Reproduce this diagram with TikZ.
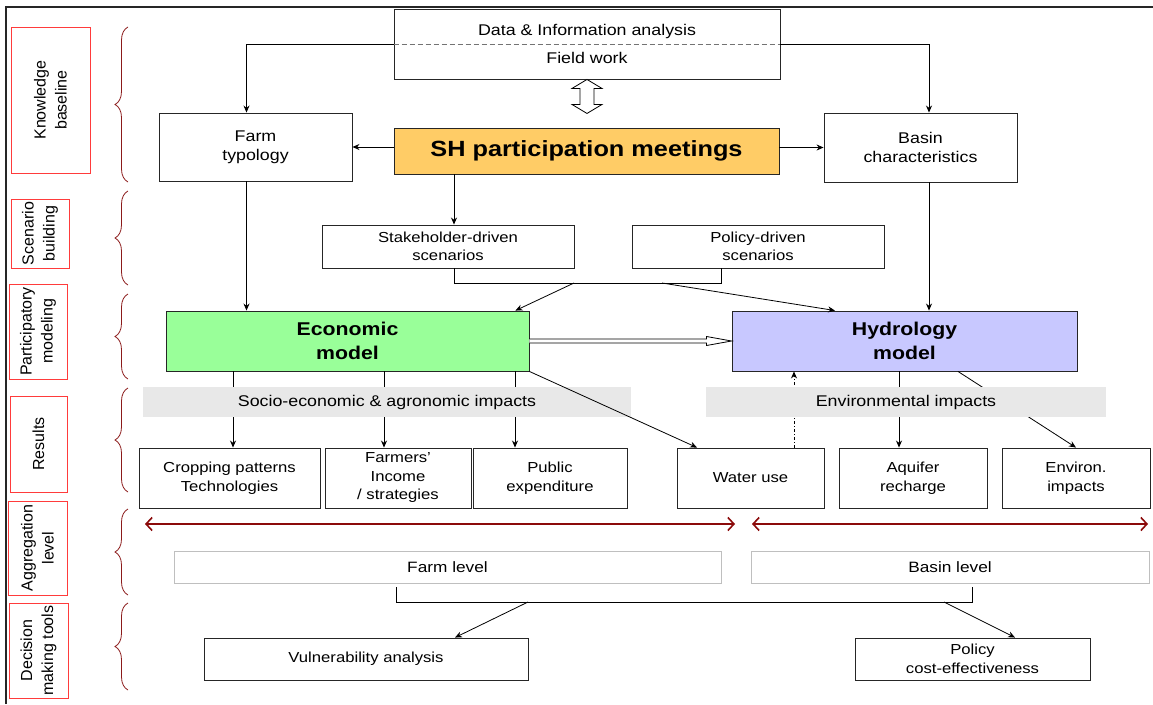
\documentclass[tikz,border=0pt]{standalone}
\usepackage{fontspec}
\setmainfont{Liberation Sans}[FakeStretch=1.15]
\newfontfamily\sidefont{Liberation Sans}
\usetikzlibrary{arrows.meta,calc,decorations.pathreplacing}

\definecolor{shorange}{HTML}{FFCC66}
\definecolor{ecogreen}{HTML}{99FF99}
\definecolor{hydroblue}{HTML}{C8C8FF}
\definecolor{bandgray}{HTML}{E8E8E8}
\definecolor{sidered}{HTML}{FF3B3B}
\definecolor{bracered}{HTML}{8B1A1A}
\definecolor{levelred}{HTML}{8B0A0A}

\begin{document}
\begin{tikzpicture}[x=1pt,y=-1pt,
  box/.style={draw=black!85,line width=0.9pt,align=center,inner sep=0pt,font=\fontsize{15.5}{19}\selectfont},
  small box/.style={box,font=\fontsize{14.5}{18.5}\selectfont},
  model box/.style={box,font=\fontsize{18.5}{24}\selectfont\bfseries},
  side label/.style={draw=sidered,line width=0.7pt,rotate=90,align=center,inner sep=0pt,font=\sidefont\fontsize{16}{21}\selectfont},
  band/.style={fill=bandgray,inner sep=0pt,text depth=2pt,font=\fontsize{15.5}{19}\selectfont},
  level box/.style={draw=black!25,line width=0.8pt,inner sep=0pt,font=\fontsize{15}{19}\selectfont},
  arr/.style={-{Stealth[length=7pt,width=6pt]},line width=0.8pt},
  level arrow/.style={{Straight Barb[length=6pt,width=13pt]}-{Straight Barb[length=6pt,width=13pt]},line width=1.6pt,draw=levelred},
  side brace/.style={decorate,decoration={brace,amplitude=13pt},draw=bracered,line width=0.8pt}]

  \useasboundingbox (0,0) rectangle (1153,704);

  % frame
  \draw[line width=1.5pt,black!85] (6,704) -- (6,7) -- (1153,7);

  % side labels and braces
  \node[side label,minimum width=146,minimum height=79] (kb) at (50.5,100) {Knowledge\\baseline};
  \node[side label,minimum width=69,minimum height=58] (sb) at (40,233.5) {Scenario\\building};
  \node[side label,minimum width=95,minimum height=58] (pm) at (38,331.5) {Participatory\\modeling};
  \node[side label,minimum width=96,minimum height=57] (rs) at (38.5,444) {Results};
  \node[side label,minimum width=94,minimum height=59] (al) at (37.5,548) {Aggregation\\level};
  \node[side label,minimum width=95,minimum height=59] (dm) at (38.5,650.5) {Decision\\making tools};
  \foreach \ya/\yb in {27/182,191/285,294/379,388/492,509/595,603/690}
    \draw[side brace] (128,\yb) -- (128,\ya);

  % knowledge baseline
  \node[box,minimum width=386,minimum height=70,font=\fontsize{15.5}{28}\selectfont] (data) at (587,44) {Data \& Information analysis\\Field work};
  \draw[dash pattern=on 5pt off 3pt,black!55,line width=0.8pt] (data.west) -- (data.east);
  \node[box,fill=shorange,minimum width=385,minimum height=46,font=\fontsize{22}{26}\selectfont\bfseries] (sh) at (586.5,151) {SH participation meetings};
  \node[box,minimum width=193,minimum height=68] (farm) at (255.5,147) {Farm\\typology};
  \node[box,minimum width=193,minimum height=69] (basin) at (920.5,147.5) {Basin\\characteristics};

  % scenarios
  \node[small box,minimum width=252,minimum height=43] (stake) at (448,246.5) {Stakeholder-driven\\scenarios};
  \node[small box,minimum width=252,minimum height=43] (policy) at (758,246.5) {Policy-driven\\scenarios};

  % models
  \node[model box,fill=ecogreen,minimum width=363,minimum height=60] (econ) at (347.5,341) {Economic\\model};
  \node[model box,fill=hydroblue,minimum width=345,minimum height=60] (hydro) at (904.5,341) {Hydrology\\model};

  % results
  \node[small box,minimum width=181,minimum height=60] (crop) at (229.5,478) {Cropping patterns\\Technologies};
  \node[small box,minimum width=146,minimum height=60] (income) at (398,478) {Farmers’\\Income\\/ strategies};
  \node[small box,minimum width=154,minimum height=60] (public) at (550,478) {Public\\expenditure};
  \node[small box,minimum width=147,minimum height=60] (water) at (750.5,478) {Water use};
  \node[small box,minimum width=148,minimum height=60] (aquifer) at (913,478) {Aquifer\\recharge};
  \node[small box,minimum width=148,minimum height=60] (environ) at (1076,478) {Environ.\\impacts};

  % aggregation and tools
  \node[level box,minimum width=547,minimum height=32] (farmlvl) at (447.5,567) {Farm level};
  \node[level box,minimum width=398,minimum height=32] (basinlvl) at (950,567) {Basin level};
  \node[small box,minimum width=324,minimum height=42] (vuln) at (366,659) {Vulnerability analysis};
  \node[small box,minimum width=235,minimum height=42] (costeff) at (972.5,659) {Policy\\cost-effectiveness};

  % connectors
  \draw[arr] (data.west) -| ([xshift=-9pt]farm.north);
  \draw[arr] (data.east) -| ([xshift=8.5pt]basin.north);
  \draw[fill=white,line width=0.8pt] (data.south) -- ($(data.south)+(15,9)$) -- ($(data.south)+(7,9)$)
    -- ($(data.south)+(7,25)$) -- ($(data.south)+(15,25)$) -- ($(data.south)+(0,34)$)
    -- ($(data.south)+(-15,25)$) -- ($(data.south)+(-7,25)$) -- ($(data.south)+(-7,9)$)
    -- ($(data.south)+(-15,9)$) -- cycle;
  \path
  (sh.west |- farm.east) [arr] edge (farm.east)
  (sh.east |- basin.west) [arr] edge (basin.west)
  ([xshift=-9pt]farm.south) [arr] edge ([xshift=-9pt]farm.south |- econ.north)
  ([xshift=8.5pt]basin.south) [arr] edge ([xshift=8.5pt]basin.south |- hydro.north)
  ([xshift=6pt]stake.north |- sh.south) [arr] edge ([xshift=6pt]stake.north);

  \draw[line width=0.8pt] ([xshift=6pt]stake.south) -- ++(0,15) -| ([xshift=-37pt]policy.south);
  \coordinate (sc1) at (574,283);
  \coordinate (sc2) at (662,283);
  \path
  (sc1) [arr] edge ([xshift=-14pt]econ.north east)
  (sc2) [arr] edge ([xshift=-69.5pt]hydro.north);

  \draw[fill=white,line width=0.8pt] ($(econ.east)+(0,-2)$) -- ($(hydro.west)+(-25,-2)$)
    -- ($(hydro.west)+(-25,-4.5)$) -- (hydro.west) -- ($(hydro.west)+(-25,4.5)$)
    -- ($(hydro.west)+(-25,2)$) -- ($(econ.east)+(0,2)$);

  \path
  ([xshift=3.5pt]crop.north |- econ.south) [arr] edge ([xshift=3.5pt]crop.north)
  ([xshift=-14pt]income.north |- econ.south) [arr] edge ([xshift=-14pt]income.north)
  ([xshift=-35pt]public.north |- econ.south) [arr] edge ([xshift=-35pt]public.north)
  ([xshift=-14pt]aquifer.north |- hydro.south) [arr] edge ([xshift=-14pt]aquifer.north)
  ([xshift=53.5pt]hydro.south) [arr] edge (environ.north);
  \draw[arr,dash dot] ([xshift=43.5pt]water.north) -- ([xshift=43.5pt]water.north |- hydro.south);

  % impact bands
  \node[band,minimum width=488,minimum height=30] (socio) at (387,402) {Socio-economic \& agronomic impacts};
  \node[band,minimum width=400,minimum height=30] (envimp) at (906,402) {Environmental impacts};
  \draw[arr] (econ.south east) -- ([xshift=-53.5pt]water.north);

  % aggregation arrows
  \coordinate (fl1) at (145,524);
  \coordinate (fl2) at (735,524);
  \coordinate (bl1) at (752,524);
  \coordinate (bl2) at (1148,524);
  \draw[level arrow] (fl1) -- (fl2);
  \draw[level arrow] (bl1) -- (bl2);

  \draw[line width=0.8pt] ([shift={(-51.5,4)}]farmlvl.south) -- ++(0,15) -| ([shift={(22,4)}]basinlvl.south);
  \coordinate (ag1) at (528,602);
  \coordinate (ag2) at (944,602);
  \path
  (ag1) [arr] edge ([xshift=89pt]vuln.north)
  (ag2) [arr] edge ([xshift=42.5pt]costeff.north);
\end{tikzpicture}
\end{document}
